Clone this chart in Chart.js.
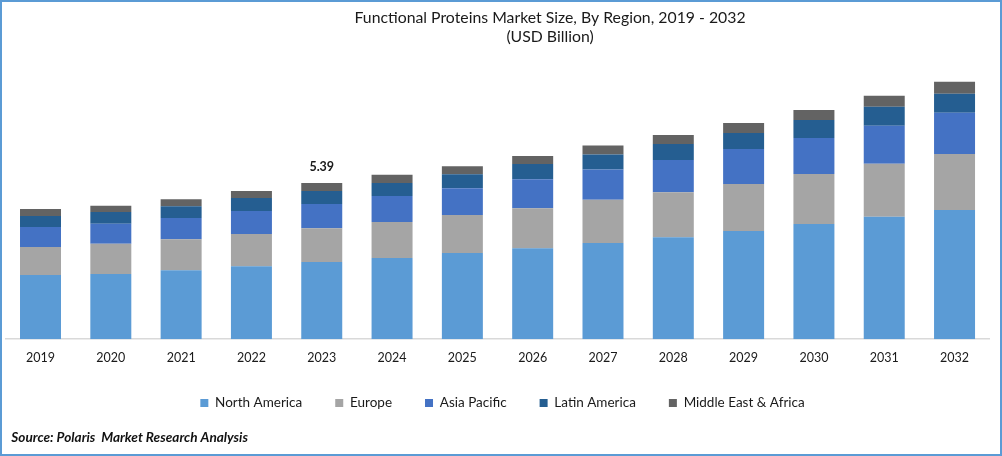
<!DOCTYPE html>
<html><head><meta charset="utf-8">
<script src="https://cdn.jsdelivr.net/npm/chart.js@4"></script>
<style>
html,body{margin:0;padding:0;background:#fff}
#wrap{position:absolute;left:0;top:0;width:1002px;height:456px;box-sizing:border-box;border:2px solid #5B9BD5;background:#fff}
canvas{display:block}
</style></head><body>
<div id="wrap"><canvas id="c" width="998" height="452"></canvas></div>
<script>
const years = ['2019','2020','2021','2022','2023','2024','2025','2026','2027','2028','2029','2030','2031','2032'];
const northAmerica = [2.21,2.25,2.38,2.52,2.66,2.80,2.97,3.14,3.32,3.52,3.73,3.97,4.22,4.46];
const europe = [0.97,1.04,1.07,1.11,1.17,1.24,1.31,1.38,1.49,1.55,1.62,1.73,1.83,1.93];
const asiaPacific = [0.69,0.69,0.73,0.79,0.83,0.90,0.93,1.00,1.04,1.11,1.21,1.24,1.31,1.42];
const latinAmerica = [0.38,0.41,0.41,0.45,0.45,0.45,0.48,0.52,0.52,0.55,0.55,0.62,0.66,0.66];
const middleEastAfrica = [0.24,0.21,0.24,0.24,0.28,0.28,0.28,0.28,0.31,0.31,0.35,0.35,0.38,0.41];
const labelledYear = '2023';
const titleLines = ['Functional Proteins Market Size, By Region, 2019 - 2032','(USD Billion)'];
const sourceText = 'Source: Polaris  Market Research Analysis';
const FONT = 'Lato, Carlito, sans-serif';
const totalLabel = {
  id:'totalLabel',
  afterLayout(chart){
    if(chart.titleBlock) chart.titleBlock.left += 105;
    if(chart.legend) chart.legend.left += 10;
    chart.scales.x.bottom += 5;
    const sub = chart.boxes.find(b=>b.options && b.options.text===sourceText);
    if(sub) sub.left += 6;
  },
  afterDatasetsDraw(chart){
    const i = years.indexOf(labelledYear);
    const last = chart.data.datasets.length-1;
    const bar = chart.getDatasetMeta(last).data[i];
    const total = chart.data.datasets.reduce((s,d)=>s+d.data[i],0);
    const ctx = chart.ctx;
    ctx.save();
    ctx.font = '700 12.5px '+FONT;
    ctx.fillStyle = '#1a1a1a';
    ctx.textAlign = 'center';
    ctx.textBaseline = 'alphabetic';
    ctx.fillText(total.toFixed(2), bar.x, bar.y-12);
    ctx.restore();
  }
};
new Chart(document.getElementById('c'),{
  type:'bar',
  data:{labels:years,datasets:[
    {label:'North America',data:northAmerica,backgroundColor:'#5B9BD5'},
    {label:'Europe',data:europe,backgroundColor:'#A5A5A5'},
    {label:'Asia Pacific',data:asiaPacific,backgroundColor:'#4472C4'},
    {label:'Latin America',data:latinAmerica,backgroundColor:'#255E91'},
    {label:'Middle East & Africa',data:middleEastAfrica,backgroundColor:'#636363'}
  ]},
  options:{
    responsive:false,animation:false,devicePixelRatio:1,
    layout:{padding:{left:3.35,right:10.3,top:6,bottom:4}},
    datasets:{bar:{barPercentage:0.583,categoryPercentage:1}},
    scales:{
      x:{stacked:true,grid:{display:false},border:{color:'#D9D9D9',width:1.5},
         afterFit(scale){scale.height -= 5;},
         ticks:{color:'#1a1a1a',font:{family:FONT,size:12.5},padding:3,maxRotation:0}},
      y:{stacked:true,display:false,min:0,max:9.91}
    },
    plugins:{
      tooltip:{enabled:false},
      title:{display:true,text:titleLines,
        color:'#1a1a1a',font:{family:FONT,size:15.8,weight:'400'},padding:{top:0,bottom:6},lineHeight:1.35},
      legend:{position:'bottom',labels:{boxWidth:8,boxHeight:8,color:'#1a1a1a',font:{family:FONT,size:13.5},padding:33}},
      subtitle:{display:true,position:'bottom',align:'start',text:sourceText,
        color:'#111',font:{family:FONT,size:13.6,weight:'700',style:'italic'},padding:{top:10,bottom:4}}
    }
  },
  plugins:[totalLabel]
});
</script>
</body></html>
